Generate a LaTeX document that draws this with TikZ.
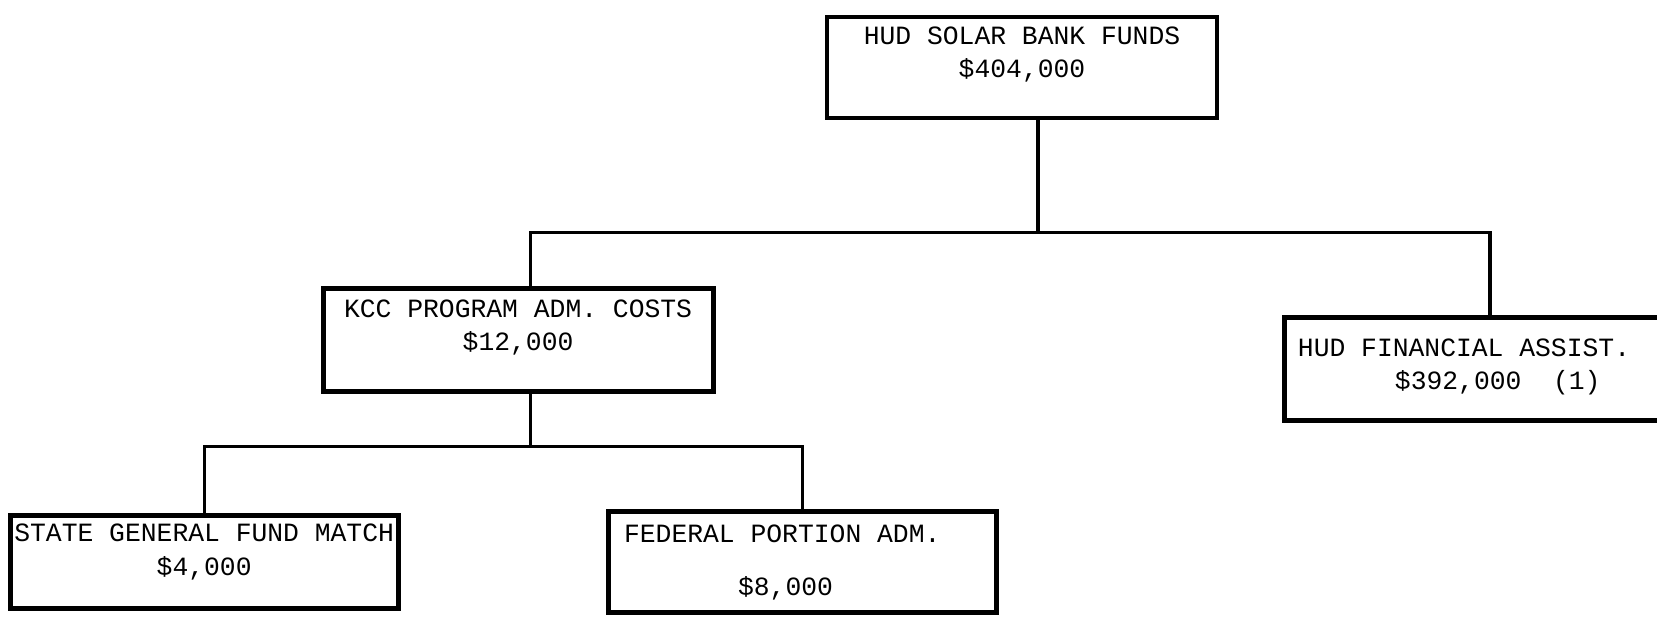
\documentclass[tikz,border=0pt]{standalone}
\usepackage{fontspec}
\setmainfont{Liberation Mono}
\usetikzlibrary{positioning}
\newcommand{\fundo}[1][3mm]{\rule[-#1]{0pt}{#1}}
\tikzset{
    caixa/.style={
        rectangle,
        draw,
        line width=1.4pt,
        align=center,
        inner xsep=1.3mm,
        inner ysep=0pt,
        text width=3.64cm,
        minimum height=1.01cm,
        execute at begin node={\spaceskip=0.6em\relax}
    },
    ligacao/.style={line width=0.9pt}
}

\begin{document}
\begin{tikzpicture}[font=\fontsize{7.5}{9.5}\selectfont]
    \useasboundingbox (0,0) rectangle (16.57,-6.19);

    \node[caixa] (fundos) at (10.22,-0.675)
        {HUD SOLAR BANK FUNDS\\\$404,000\fundo};
    \node[caixa, minimum height=1.03cm, below left=1.66cm and 1.09cm of fundos] (kcc)
        {KCC PROGRAM ADM. COSTS\\\$12,000\fundo};
    \node[caixa, align=left, text width=3.84cm, minimum height=1.03cm,
          below right=1.95cm and 0.63cm of fundos] (hud)
        {HUD FINANCIAL ASSIST.\\\hspace*{0.97cm}\$392,000~~(1)\fundo[1mm]};
    \node[caixa, inner xsep=0.2mm, text width=3.84cm, minimum height=0.93cm,
          below left=1.19cm and -0.80cm of kcc] (estado)
        {STATE GENERAL FUND MATCH\\\$4,000\fundo[2.5mm]};
    \node[caixa, align=left, inner xsep=1.6mm, text width=3.56cm, right=2.05cm of estado] (federal)
        {FEDERAL PORTION ADM.\\[2mm]\hspace*{1.14cm}\$8,000};

    \draw[ligacao] ([xshift=1.6mm]fundos.south) -- ++(0,-1.12) coordinate (nivel1);
    \draw[ligacao] ([xshift=1.2mm]kcc.north) |- (nivel1) -| (hud.north);
    \draw[ligacao] ([xshift=1.2mm]kcc.south) -- ++(0,-0.52) coordinate (nivel2);
    \draw[ligacao] (estado.north) |- (nivel2) -| (federal.north);
\end{tikzpicture}
\end{document}
